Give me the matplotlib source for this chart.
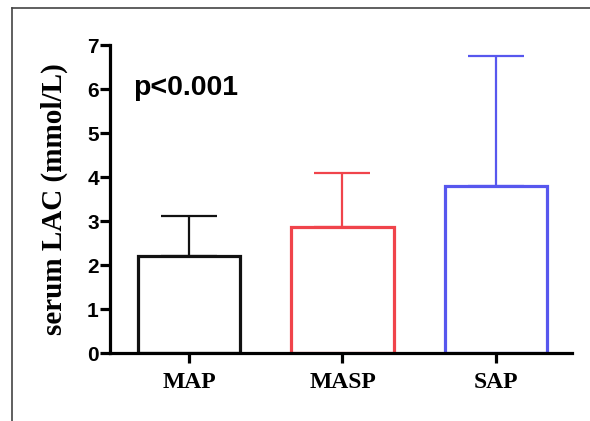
import matplotlib
matplotlib.use('Agg')
import matplotlib.pyplot as plt
from matplotlib.lines import Line2D

# group data
groups = ['MAP', 'MASP', 'SAP']
means = [2.2, 2.87, 3.8]
sds = [0.92, 1.22, 2.96]
colors = ['#111111', '#F0444B', '#5757EE']
p_text = 'p<0.001'

fig = plt.figure(figsize=(5.90, 4.21), dpi=100)
ax = fig.add_axes([0.1864, 0.1615, 0.783, 0.7316])

x = range(len(groups))
for i in x:
    ax.errorbar(i, means[i], yerr=[[0], [sds[i]]], fmt='none', ecolor=colors[i],
                elinewidth=1.6, capsize=20, capthick=1.6, zorder=1)
    ax.bar(i, means[i], width=0.67, facecolor='white', edgecolor=colors[i],
           linewidth=2.3, zorder=2)

ax.set_xlim(-0.515, 2.495)
ax.set_ylim(0, 7)
ax.set_yticks(range(0, 8))
ax.set_xticks(list(x))
ax.set_xticklabels(groups, fontfamily='Liberation Serif', fontweight='bold', fontsize=17)
for lab in ax.get_yticklabels():
    lab.set_fontfamily('Liberation Sans')
    lab.set_fontweight('bold')
    lab.set_fontsize(15)

for s in ['top', 'right']:
    ax.spines[s].set_visible(False)
for s in ['left', 'bottom']:
    ax.spines[s].set_linewidth(2.3)
ax.tick_params(axis='both', width=2.3, length=7, pad=1)
ax.tick_params(axis='x', pad=7)

ax.set_ylabel('serum LAC (mmol/L)', fontfamily='Liberation Serif', fontweight='bold',
              fontsize=21, labelpad=14)

ax.text(-0.365, 6.02, p_text, fontfamily='Liberation Sans', fontweight='bold',
        fontsize=20.5, va='center', ha='left')

# thin frame around the figure (left and top edges visible)
fig.add_artist(Line2D([12/590, 12/590], [0, 1 - 8/421], transform=fig.transFigure,
                      color='#444444', linewidth=1.2))
fig.add_artist(Line2D([12/590, 1], [1 - 8/421, 1 - 8/421], transform=fig.transFigure,
                      color='#444444', linewidth=1.2))

fig.savefig('out.png', dpi=100)
